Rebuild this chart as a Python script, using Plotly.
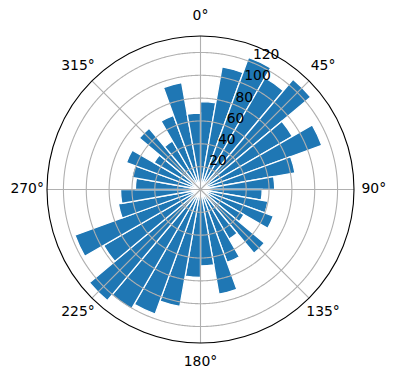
import numpy as np
import plotly.graph_objects as go

# ---- data ----
bin_centers_deg = [5, 15, 25, 35, 45, 55, 65, 75, 85,
                   95, 105, 115, 125, 135, 145, 155, 165, 175,
                   185, 195, 205, 215, 225, 235, 245, 255, 265,
                   275, 285, 295, 305, 315, 325, 335, 345, 355]
bar_values = [77, 109, 123, 113, 126, 93, 113, 84, 65,
              54, 60, 68, 44, 73, 50, 68, 93, 67,
              77, 104, 116, 121, 127, 98, 117, 73, 70,
              57, 61, 69, 47, 70, 49, 69, 95, 67]
bin_width_deg = 10
r_ticks = [20, 40, 60, 80, 100, 120]
theta_ticks = [0, 45, 90, 135, 180, 225, 270, 315]
theta_labels = ["0°", "45°", "90°", "135°", "180°", "225°", "270°", "315°"]
R_MAX = 134.4
RLABEL_POS = 22.5

FONT = "DejaVu Sans"
BLUE = "#1f77b4"
GRID = "#b0b0b0"

# main circle radius 153.5 px inside a label ring of radius 173.5 px
inner = 153.5 / 173.5
dom = [0.5 - inner / 2, 0.5 + inner / 2]

fig = go.Figure()

fig.add_trace(go.Barpolar(
    r=bar_values,
    theta=bin_centers_deg,
    width=[bin_width_deg] * len(bar_values),
    marker=dict(color=BLUE, line=dict(color="white", width=1.3)),
    hoverinfo="skip",
    subplot="polar",
))

# grid drawn above bars (as in the reference)
circle_theta = np.linspace(0, 360, 721)
for rt in r_ticks:
    fig.add_trace(go.Scatterpolar(
        r=[rt] * len(circle_theta), theta=circle_theta, mode="lines",
        line=dict(color=GRID, width=1.1), hoverinfo="skip", subplot="polar"))
for tt in theta_ticks:
    fig.add_trace(go.Scatterpolar(
        r=[0, R_MAX], theta=[tt, tt], mode="lines",
        line=dict(color=GRID, width=1.1), hoverinfo="skip", subplot="polar"))

# radial tick labels
fig.add_trace(go.Scatterpolar(
    r=r_ticks, theta=[RLABEL_POS] * len(r_ticks), mode="text",
    text=[str(v) for v in r_ticks], textposition="top right",
    textfont=dict(family=FONT, size=13.9, color="black"),
    hoverinfo="skip", subplot="polar"))

# angular tick labels, centred on an outer (invisible) ring
fig.add_trace(go.Scatterpolar(
    r=[1.0] * len(theta_ticks), theta=theta_ticks, mode="text",
    text=theta_labels, textposition="middle center", cliponaxis=False,
    textfont=dict(family=FONT, size=13.9, color="black"),
    hoverinfo="skip", subplot="polar2"))

hidden_angular = dict(rotation=90, direction="clockwise", showticklabels=False,
                      showgrid=False, showline=False, ticks="")

fig.update_layout(
    width=396, height=380,
    margin=dict(l=27, r=22, t=16, b=17),
    paper_bgcolor="white",
    showlegend=False,
    hovermode=False,
    polar=dict(
        domain=dict(x=dom, y=dom),
        bgcolor="white",
        bargap=0,
        angularaxis=dict(
            rotation=90, direction="clockwise",
            tickmode="array", tickvals=theta_ticks,
            showticklabels=False,
            showgrid=False, showline=True, linecolor="black", linewidth=1.1,
            ticks="",
        ),
        radialaxis=dict(
            range=[0, R_MAX], showgrid=False, showline=False,
            showticklabels=False, ticks="",
        ),
    ),
    polar2=dict(
        domain=dict(x=[0, 1], y=[0, 1]),
        bgcolor="rgba(0,0,0,0)",
        angularaxis=hidden_angular,
        radialaxis=dict(range=[0, 1.001], visible=False, showgrid=False,
                        showline=False, showticklabels=False, ticks=""),
    ),
)

fig.write_html("out.html")
